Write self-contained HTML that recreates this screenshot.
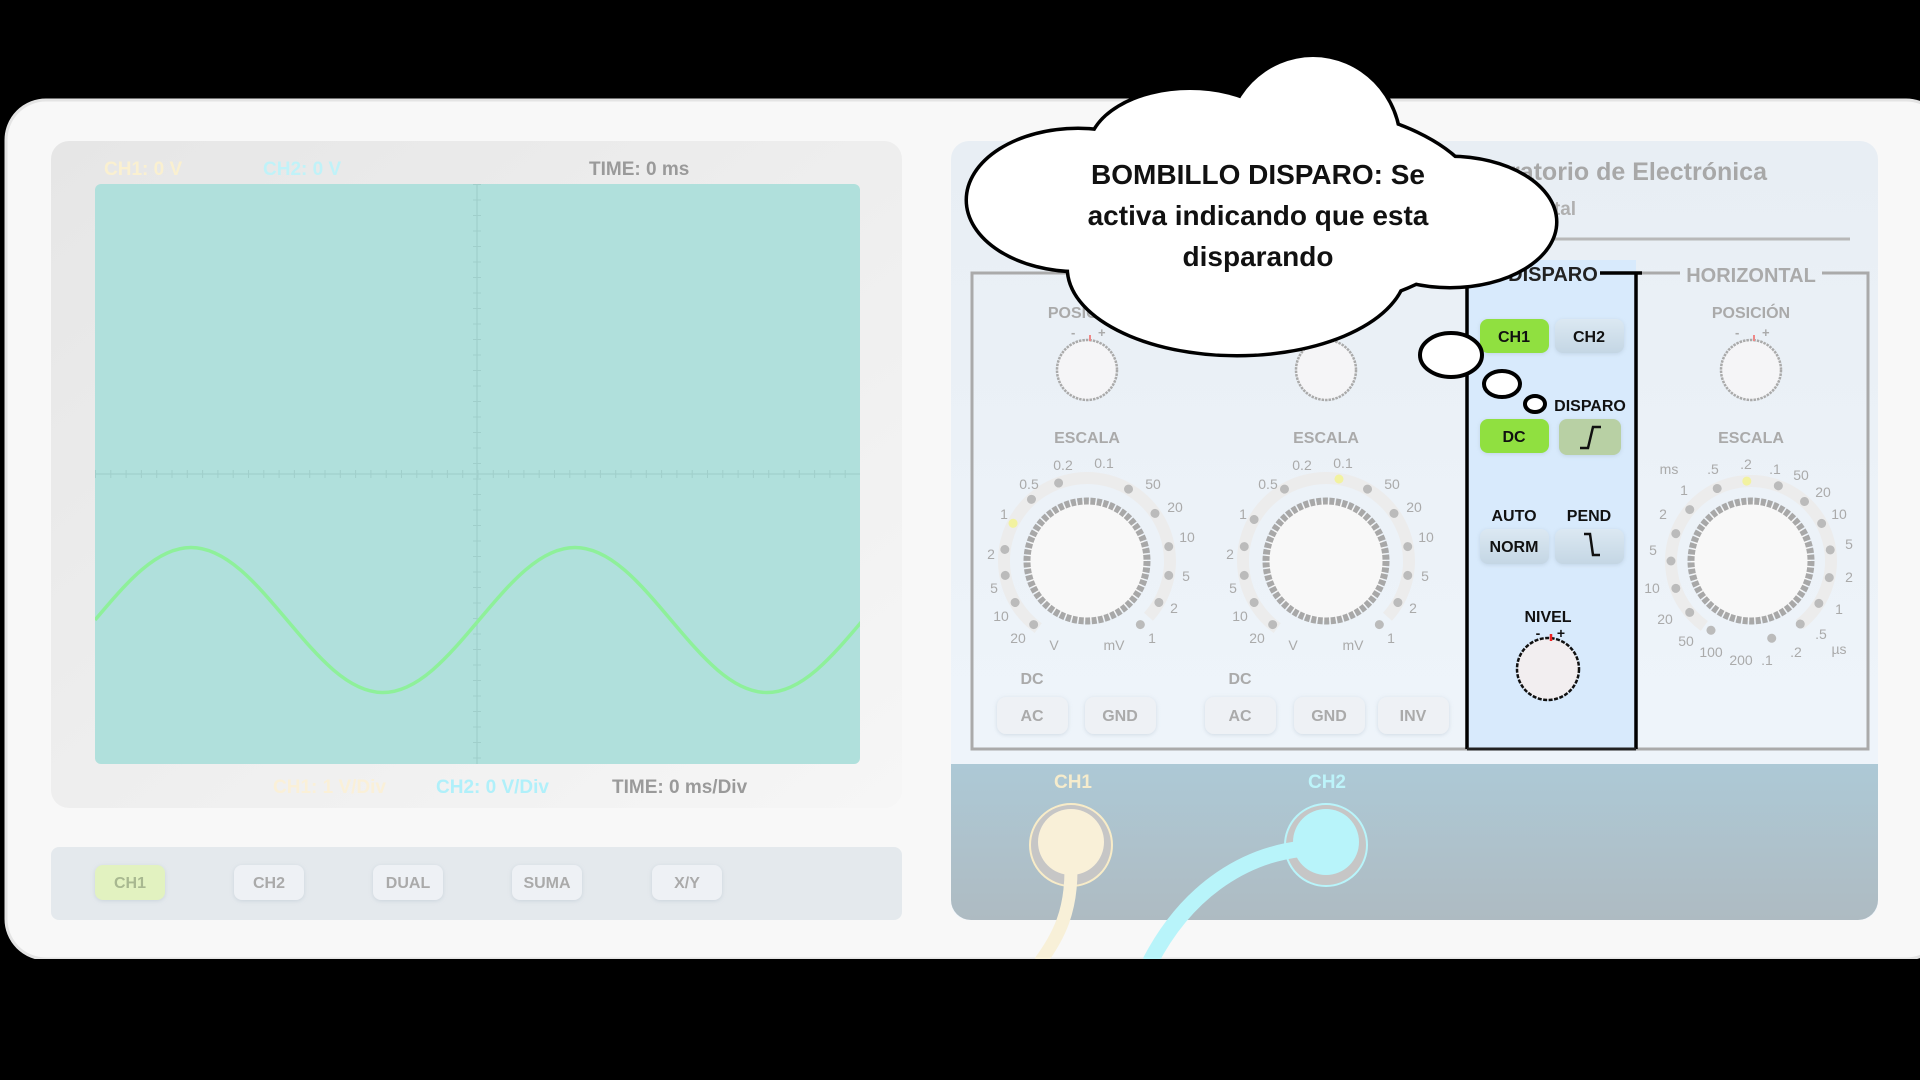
<!DOCTYPE html>
<html><head><meta charset="utf-8"><style>
html,body{margin:0;padding:0;background:#000;}
svg{display:block;font-family:"Liberation Sans",sans-serif;}
</style></head><body>
<svg width="1920" height="1080" viewBox="0 0 1920 1080" xmlns="http://www.w3.org/2000/svg">
<defs>
<linearGradient id="scr" x1="0" y1="0" x2="1" y2="1"><stop offset="0" stop-color="#e6e6e6"/><stop offset="1" stop-color="#f6f6f6"/></linearGradient>
<linearGradient id="inp" x1="0" y1="0" x2="0" y2="1"><stop offset="0" stop-color="#adc9d6"/><stop offset="1" stop-color="#aebbc2"/></linearGradient>
<linearGradient id="rp" x1="0" y1="0" x2="0" y2="1"><stop offset="0" stop-color="#e8eef4"/><stop offset="1" stop-color="#f0f6fc"/></linearGradient>
<linearGradient id="btn" x1="0" y1="0" x2="0" y2="1"><stop offset="0" stop-color="#dbe8f2"/><stop offset="1" stop-color="#c4d6e4"/></linearGradient>
<filter id="sh" x="-20%" y="-20%" width="140%" height="140%"><feDropShadow dx="0" dy="1" stdDeviation="2" flood-color="#9ab" flood-opacity="0.35"/></filter>
<clipPath id="sc"><rect x="95" y="184" width="765" height="580"/></clipPath>
</defs>
<rect x="0" y="0" width="1920" height="1080" fill="#000"/>
<rect x="6" y="100" width="1940" height="859" rx="40" fill="#f8f8f8" stroke="#e4e4e4" stroke-width="3"/>
<rect x="0" y="959" width="1920" height="121" fill="#000"/>

<!-- left screen panel -->
<rect x="51" y="141" width="851" height="667" rx="18" fill="url(#scr)"/>
<rect x="95" y="184" width="765" height="580" rx="6" fill="#b0e0dc"/>
<line x1="477" y1="184" x2="477" y2="764" stroke="#a2d2ce" stroke-width="1.5"/>
<line x1="95" y1="474" x2="860" y2="474" stroke="#a2d2ce" stroke-width="1.5"/>
<path d="M95,474 H860" stroke="#a0cfcb" stroke-width="8" stroke-dasharray="1 14.3" fill="none"/>
<path d="M477,184 V764" stroke="#a0cfcb" stroke-width="8" stroke-dasharray="1 14.5" fill="none"/>
<path clip-path="url(#sc)" d="M95,620 C126.3,582.9 156.2,547.5 191,547.5 C225.8,547.5 255.7,582.9 287,620 C318.3,657.1 348.2,692.5 383,692.5 C417.8,692.5 447.7,657.1 479,620 C510.3,582.9 540.2,547.5 575,547.5 C609.8,547.5 639.7,582.9 671,620 C702.3,657.1 732.2,692.5 767,692.5 C801.8,692.5 831.7,657.1 863,620" fill="none" stroke="#8ef09a" stroke-width="3.5"/>
<g font-weight="bold" font-size="19">
<text x="104" y="175" fill="#faf0d0">CH1: 0 V</text>
<text x="263" y="175" fill="#c0f2f8">CH2: 0 V</text>
<text x="589" y="175" fill="#9a9a9a">TIME: 0 ms</text>
<text x="273" y="793" fill="#faf0d8">CH1: 1 V/Div</text>
<text x="436" y="793" fill="#b0f0fa">CH2: 0 V/Div</text>
<text x="612" y="793" fill="#9a9a9a">TIME: 0 ms/Div</text>
</g>
<!-- button bar -->
<rect x="51" y="847" width="851" height="73" rx="8" fill="#e4e9ed"/>
<g font-weight="bold" font-size="16" text-anchor="middle" fill="#aaa">
<rect x="95" y="865" width="70" height="35" rx="8" fill="#e2f2c0" filter="url(#sh)"/><text x="130" y="888" fill="#a8b890">CH1</text>
<rect x="234" y="865" width="70" height="35" rx="8" fill="#eef1f5" filter="url(#sh)"/><text x="269" y="888">CH2</text>
<rect x="373" y="865" width="70" height="35" rx="8" fill="#eef1f5" filter="url(#sh)"/><text x="408" y="888">DUAL</text>
<rect x="512" y="865" width="70" height="35" rx="8" fill="#eef1f5" filter="url(#sh)"/><text x="547" y="888">SUMA</text>
<rect x="652" y="865" width="70" height="35" rx="8" fill="#eef1f5" filter="url(#sh)"/><text x="687" y="888">X/Y</text>
</g>

<!-- right panel -->
<rect x="951" y="141" width="927" height="779" rx="18" fill="url(#rp)"/>
<path d="M951,764 H1878 V900 a20,20 0 0 1 -20,20 H971 a20,20 0 0 1 -20,-20 Z" fill="url(#inp)"/>
<text x="1767" y="180" font-size="25" font-weight="bold" fill="#a8a8a8" text-anchor="end">Laboratorio de Electrónica</text>
<text x="1518" y="215" font-size="19" font-weight="bold" fill="#b0b0b0">Digital</text>
<line x1="1000" y1="239" x2="1850" y2="239" stroke="#b8b8b8" stroke-width="3"/>
<!-- frame -->
<path d="M1560,273 H972 V749 H1868 V273 H1822 M1680,273 H1640" fill="none" stroke="#aaa" stroke-width="3"/>
<text x="1751" y="282" font-size="20" font-weight="bold" fill="#aaa" text-anchor="middle">HORIZONTAL</text>
<!-- disparo panel -->
<rect x="1467" y="260" width="169" height="489" fill="#d8eafc"/>
<path d="M1467,272 V749 M1636,272 V749 M1600,273 H1642" stroke="#000" stroke-width="3.5" fill="none"/>
<line x1="1467" y1="749" x2="1636" y2="749" stroke="#222" stroke-width="3"/>
<text x="1553" y="281" font-size="20" font-weight="bold" fill="#222" text-anchor="middle">DISPARO</text>

<g font-weight="bold" font-size="16" text-anchor="middle" fill="#aaa">
<text x="1087" y="318">POSICIÓN</text>
<text x="1751" y="318">POSICIÓN</text>
<text x="1087" y="443">ESCALA</text>
<text x="1326" y="443">ESCALA</text>
<text x="1751" y="443">ESCALA</text>
<text x="1032" y="684">DC</text>
<text x="1240" y="684">DC</text>
</g>
<!-- position knobs -->
<g stroke="#aaa" stroke-width="2.5" fill="#f5f5f7" stroke-dasharray="2.5 1">
<circle cx="1087" cy="370" r="30"/><circle cx="1326" cy="370" r="30"/><circle cx="1751" cy="370" r="30"/>
</g>
<g font-size="13" fill="#aaa" font-weight="bold"><text x="1071" y="337">-</text><text x="1098" y="337">+</text><text x="1735" y="337">-</text><text x="1762" y="337">+</text></g>
<line x1="1090" y1="335" x2="1090" y2="341" stroke="#e88" stroke-width="2"/>
<line x1="1754" y1="335" x2="1754" y2="341" stroke="#e88" stroke-width="2"/>

<!-- dial 1 -->
<g transform="translate(1087,561)">
<circle r="83" fill="none" stroke="#ececec" stroke-width="12" stroke-dasharray="400 122" transform="rotate(126)"/>
<g fill="#bbb"><circle cy="-83" r="4.5" transform="rotate(-140)"/><circle cy="-83" r="4.5" transform="rotate(-120)"/><circle cy="-83" r="4.5" transform="rotate(-100)"/><circle cy="-83" r="4.5" transform="rotate(-82)"/><circle cy="-83" r="4.5" transform="rotate(-42)"/><circle cy="-83" r="4.5" transform="rotate(-20)"/><circle cy="-83" r="4.5" transform="rotate(30)"/><circle cy="-83" r="4.5" transform="rotate(55)"/><circle cy="-83" r="4.5" transform="rotate(80)"/><circle cy="-83" r="4.5" transform="rotate(100)"/><circle cy="-83" r="4.5" transform="rotate(120)"/><circle cy="-83" r="4.5" transform="rotate(140)"/></g>
<circle cy="-83" r="4.5" fill="#f2f2a0" transform="rotate(-63)"/>
<circle r="60" fill="#f8f8f8" stroke="#a8a8a8" stroke-width="7" stroke-dasharray="5 1.5"/>
<g font-size="14" fill="#aaa" text-anchor="middle"><text x="-24" y="-91">0.2</text><text x="17" y="-93">0.1</text><text x="-58" y="-72">0.5</text><text x="-83" y="-42">1</text><text x="-96" y="-2">2</text><text x="-93" y="32">5</text><text x="-86" y="60">10</text><text x="-69" y="82">20</text><text x="-33" y="89">V</text><text x="27" y="89">mV</text><text x="65" y="82">1</text><text x="87" y="52">2</text><text x="99" y="20">5</text><text x="100" y="-19">10</text><text x="88" y="-49">20</text><text x="66" y="-72">50</text></g>
</g>
<!-- dial 2 -->
<g transform="translate(1326,561)">
<circle r="83" fill="none" stroke="#ececec" stroke-width="12" stroke-dasharray="400 122" transform="rotate(126)"/>
<g fill="#bbb"><circle cy="-83" r="4.5" transform="rotate(-140)"/><circle cy="-83" r="4.5" transform="rotate(-120)"/><circle cy="-83" r="4.5" transform="rotate(-100)"/><circle cy="-83" r="4.5" transform="rotate(-80)"/><circle cy="-83" r="4.5" transform="rotate(-60)"/><circle cy="-83" r="4.5" transform="rotate(-30)"/><circle cy="-83" r="4.5" transform="rotate(30)"/><circle cy="-83" r="4.5" transform="rotate(55)"/><circle cy="-83" r="4.5" transform="rotate(80)"/><circle cy="-83" r="4.5" transform="rotate(100)"/><circle cy="-83" r="4.5" transform="rotate(120)"/><circle cy="-83" r="4.5" transform="rotate(140)"/></g>
<circle cy="-83" r="4.5" fill="#f2f2a0" transform="rotate(9)"/>
<circle r="60" fill="#f8f8f8" stroke="#a8a8a8" stroke-width="7" stroke-dasharray="5 1.5"/>
<g font-size="14" fill="#aaa" text-anchor="middle"><text x="-24" y="-91">0.2</text><text x="17" y="-93">0.1</text><text x="-58" y="-72">0.5</text><text x="-83" y="-42">1</text><text x="-96" y="-2">2</text><text x="-93" y="32">5</text><text x="-86" y="60">10</text><text x="-69" y="82">20</text><text x="-33" y="89">V</text><text x="27" y="89">mV</text><text x="65" y="82">1</text><text x="87" y="52">2</text><text x="99" y="20">5</text><text x="100" y="-19">10</text><text x="88" y="-49">20</text><text x="66" y="-72">50</text></g>
</g>
<!-- dial 3 -->
<g transform="translate(1751,561)">
<circle r="80" fill="none" stroke="#ececec" stroke-width="12" stroke-dasharray="400 102" transform="rotate(126)"/>
<g fill="#bbb"><circle cy="-80" r="4.5" transform="rotate(-150)"/><circle cy="-80" r="4.5" transform="rotate(-130)"/><circle cy="-80" r="4.5" transform="rotate(-110)"/><circle cy="-80" r="4.5" transform="rotate(-90)"/><circle cy="-80" r="4.5" transform="rotate(-70)"/><circle cy="-80" r="4.5" transform="rotate(-50)"/><circle cy="-80" r="4.5" transform="rotate(-25)"/><circle cy="-80" r="4.5" transform="rotate(20)"/><circle cy="-80" r="4.5" transform="rotate(42)"/><circle cy="-80" r="4.5" transform="rotate(62)"/><circle cy="-80" r="4.5" transform="rotate(82)"/><circle cy="-80" r="4.5" transform="rotate(102)"/><circle cy="-80" r="4.5" transform="rotate(122)"/><circle cy="-80" r="4.5" transform="rotate(142)"/><circle cy="-80" r="4.5" transform="rotate(165)"/></g>
<circle cy="-80" r="4.5" fill="#f2f2a0" transform="rotate(-3)"/>
<circle r="60" fill="#f8f8f8" stroke="#a8a8a8" stroke-width="7" stroke-dasharray="5 1.5"/>
<g font-size="14" fill="#aaa" text-anchor="middle"><text x="-82" y="-87">ms</text><text x="-38" y="-87">.5</text><text x="-5" y="-92">.2</text><text x="24" y="-87">.1</text><text x="50" y="-81">50</text><text x="72" y="-64">20</text><text x="88" y="-42">10</text><text x="98" y="-12">5</text><text x="98" y="21">2</text><text x="88" y="53">1</text><text x="70" y="78">.5</text><text x="88" y="93">µs</text><text x="45" y="96">.2</text><text x="16" y="104">.1</text><text x="-10" y="104">200</text><text x="-40" y="96">100</text><text x="-65" y="85">50</text><text x="-86" y="63">20</text><text x="-99" y="32">10</text><text x="-98" y="-6">5</text><text x="-88" y="-42">2</text><text x="-67" y="-66">1</text></g>
</g>
<!-- AC/GND buttons -->
<g font-weight="bold" font-size="16" text-anchor="middle" fill="#aaa">
<rect x="997" y="697" width="71" height="37" rx="9" fill="#eef1f5" filter="url(#sh)"/><text x="1032" y="721">AC</text>
<rect x="1085" y="697" width="71" height="37" rx="9" fill="#eef1f5" filter="url(#sh)"/><text x="1120" y="721">GND</text>
<rect x="1205" y="697" width="71" height="37" rx="9" fill="#eef1f5" filter="url(#sh)"/><text x="1240" y="721">AC</text>
<rect x="1294" y="697" width="71" height="37" rx="9" fill="#eef1f5" filter="url(#sh)"/><text x="1329" y="721">GND</text>
<rect x="1378" y="697" width="71" height="37" rx="9" fill="#eef1f5" filter="url(#sh)"/><text x="1413" y="721">INV</text>
</g>
<!-- disparo controls -->
<g font-weight="bold" font-size="16" text-anchor="middle" fill="#111">
<rect x="1480" y="319" width="69" height="34" rx="8" fill="#90e040" filter="url(#sh)"/><text x="1514" y="342">CH1</text>
<rect x="1555" y="319" width="69" height="34" rx="8" fill="url(#btn)" filter="url(#sh)"/><text x="1589" y="342">CH2</text>
<text x="1590" y="411">DISPARO</text>
<rect x="1480" y="419" width="69" height="34" rx="8" fill="#90e040" filter="url(#sh)"/><text x="1514" y="442">DC</text>
<rect x="1559" y="419" width="62" height="36" rx="8" fill="#b8d0a4" filter="url(#sh)"/>
<path d="M1580,448 H1588 L1593,427 H1601" fill="none" stroke="#111" stroke-width="2.5"/>
<text x="1514" y="521">AUTO</text><text x="1589" y="521">PEND</text>
<rect x="1480" y="529" width="69" height="35" rx="8" fill="url(#btn)" filter="url(#sh)"/><text x="1514" y="552">NORM</text>
<rect x="1555" y="529" width="69" height="35" rx="8" fill="url(#btn)" filter="url(#sh)"/>
<path d="M1584,534 H1590 L1593,555 H1600" fill="none" stroke="#111" stroke-width="2.5"/>
<text x="1548" y="622">NIVEL</text>
<text x="1538" y="638" font-size="14">-</text><text x="1561" y="638" font-size="14">+</text>
</g>
<circle cx="1548" cy="669" r="31" fill="#f2eef0" stroke="#111" stroke-width="2.5" stroke-dasharray="4 1.5"/>
<line x1="1551" y1="634" x2="1551" y2="641" stroke="#e22" stroke-width="2.5"/>

<!-- inputs -->
<g font-weight="bold" font-size="19" text-anchor="middle">
<text x="1073" y="788" fill="#f6eccc">CH1</text>
<text x="1327" y="788" fill="#bdf4fa">CH2</text>
</g>
<circle cx="1071" cy="845" r="41" fill="#c6c6c6" stroke="#f8ecc8" stroke-width="2"/>
<circle cx="1071" cy="842" r="33" fill="#f9f0d8"/>
<circle cx="1326" cy="845" r="41" fill="#c6c6c6" stroke="#b8f4fa" stroke-width="2"/>
<circle cx="1326" cy="842" r="33" fill="#b8f4fa"/>
<path d="M1071,870 C1071,910 1060,935 1040,962" fill="none" stroke="#f8f0d8" stroke-width="13"/>
<path d="M1300,849 C1250,855 1190,885 1150,962" fill="none" stroke="#b8f4fa" stroke-width="16"/>
<rect x="0" y="959" width="1920" height="121" fill="#000"/>

<!-- cloud -->
<g stroke="#000" stroke-width="7" fill="#fff">
<ellipse cx="1313" cy="145" rx="86" ry="88"/>
<ellipse cx="1078" cy="200" rx="110" ry="70"/>
<ellipse cx="1450" cy="222" rx="105" ry="64"/>
<ellipse cx="1237" cy="268" rx="168" ry="86"/>
<ellipse cx="1190" cy="150" rx="100" ry="60"/>
<ellipse cx="1261" cy="208" rx="220" ry="105"/>
</g>
<g fill="#fff">
<ellipse cx="1313" cy="145" rx="86" ry="88"/>
<ellipse cx="1078" cy="200" rx="110" ry="70"/>
<ellipse cx="1450" cy="222" rx="105" ry="64"/>
<ellipse cx="1237" cy="268" rx="168" ry="86"/>
<ellipse cx="1190" cy="150" rx="100" ry="60"/>
<ellipse cx="1261" cy="208" rx="220" ry="105"/>
</g>
<g stroke="#000" stroke-width="4" fill="#fff">
<ellipse cx="1451" cy="355" rx="31" ry="22"/>
<ellipse cx="1502" cy="384" rx="18" ry="13"/>
<ellipse cx="1535" cy="404" rx="10" ry="8"/>
</g>
<g font-weight="bold" font-size="28" text-anchor="middle" fill="#111">
<text x="1258" y="184">BOMBILLO DISPARO: Se</text>
<text x="1258" y="225">activa indicando que esta</text>
<text x="1258" y="266">disparando</text>
</g>
</svg>
</body></html>
